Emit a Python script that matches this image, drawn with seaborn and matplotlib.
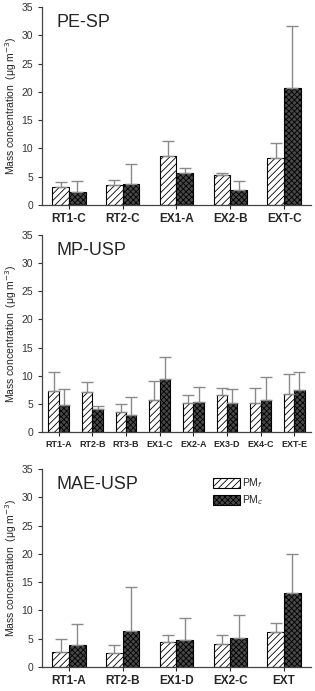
import matplotlib
matplotlib.use('Agg')
import matplotlib.pyplot as plt
import pandas as pd
import seaborn as sns
from matplotlib.patches import Patch

sns.set_style('ticks')
plt.rcParams['font.family'] = ['Liberation Sans', 'DejaVu Sans']
plt.rcParams['hatch.linewidth'] = 0.6

# Panel data: site labels, PMf / PMc means and upper error sizes
pesp_sites = ['RT1-C', 'RT2-C', 'EX1-A', 'EX2-B', 'EXT-C']
pesp_f = [3.1, 3.5, 8.6, 5.3, 8.4]
pesp_f_err = [1.0, 0.9, 2.8, 0.4, 2.6]
pesp_c = [2.3, 3.8, 5.7, 2.6, 20.6]
pesp_c_err = [2.0, 3.5, 0.8, 1.6, 11.0]

mpusp_sites = ['RT1-A', 'RT2-B', 'RT3-B', 'EX1-C', 'EX2-A', 'EX3-D', 'EX4-C', 'EXT-E']
mpusp_f = [7.3, 7.1, 3.6, 5.6, 5.2, 6.6, 5.1, 6.8]
mpusp_f_err = [3.4, 1.7, 1.4, 3.4, 1.3, 1.3, 2.8, 3.5]
mpusp_c = [4.8, 4.0, 3.1, 9.4, 5.3, 5.1, 5.7, 7.4]
mpusp_c_err = [2.8, 0.6, 3.2, 3.9, 2.7, 2.5, 4.0, 3.3]

maeusp_sites = ['RT1-A', 'RT2-B', 'EX1-D', 'EX2-C', 'EXT']
maeusp_f = [2.7, 2.5, 4.5, 4.0, 6.2]
maeusp_f_err = [2.3, 1.4, 1.1, 1.7, 1.6]
maeusp_c = [3.9, 6.3, 4.7, 5.1, 13.1]
maeusp_c_err = [3.7, 7.9, 3.9, 4.1, 6.9]

panels = [
    ('PE-SP', pesp_sites, pesp_f, pesp_f_err, pesp_c, pesp_c_err, 8.5),
    ('MP-USP', mpusp_sites, mpusp_f, mpusp_f_err, mpusp_c, mpusp_c_err, 6.5),
    ('MAE-USP', maeusp_sites, maeusp_f, maeusp_f_err, maeusp_c, maeusp_c_err, 8.5),
]

fig = plt.figure(figsize=(3.15, 6.91), dpi=100)
rects = [[0.1333, 0.7033, 0.854, 0.2865],
         [0.1333, 0.3748, 0.854, 0.2851],
         [0.1333, 0.0347, 0.854, 0.2865]]

dark = '#484848'
hue_order = ['PMf', 'PMc']
for (name, sites, f, fe, c, ce, fs), rect in zip(panels, rects):
    ax = fig.add_axes(rect)
    df = pd.DataFrame({
        'site': sites * 2,
        'size': ['PMf'] * len(sites) + ['PMc'] * len(sites),
        'value': f + c,
        'err': fe + ce,
    })
    sns.barplot(data=df, x='site', y='value', hue='size', hue_order=hue_order,
                order=sites, width=0.62, gap=0, ax=ax, legend=False,
                palette={'PMf': 'white', 'PMc': dark},
                edgecolor='black', linewidth=0.8, errorbar=None)
    n = len(sites)
    for i, p in enumerate(ax.patches[:2 * n]):
        if i < n:
            p.set_hatch('/////')
            p.set_facecolor('white')
        else:
            p.set_hatch('xxxxxx')
            p.set_facecolor(dark)
        xc = p.get_x() + p.get_width() / 2
        ax.errorbar(xc, df['value'][i], yerr=[[0], [df['err'][i]]], fmt='none',
                    ecolor='#8a8a8a', elinewidth=1.0, capsize=4, capthick=1.0,
                    zorder=1)
    ax.set_xlim(-0.5, n - 0.5)
    ax.set_ylim(0, 35)
    ax.set_yticks(range(0, 36, 5))
    ax.tick_params(axis='y', labelsize=7.5, length=3, width=0.8, colors='#333333')
    ax.tick_params(axis='x', labelsize=fs, length=3, width=0.8, pad=3)
    for lab in ax.get_xticklabels():
        lab.set_fontweight('bold')
    ax.set_xlabel('')
    ax.set_ylabel('Mass concentration  (μg m$^{-3}$)', fontsize=7.5, labelpad=2)
    sns.despine(ax=ax)
    for s in ['left', 'bottom']:
        ax.spines[s].set_linewidth(0.9)
        ax.spines[s].set_color('#444444')
    ax.text(0.055, 0.965, name, transform=ax.transAxes, fontsize=13,
            ha='left', va='top')

    if name == 'MAE-USP':
        handles = [Patch(facecolor='white', edgecolor='black', hatch='/////', linewidth=0.8),
                   Patch(facecolor=dark, edgecolor='black', hatch='xxxxxx', linewidth=0.8)]
        ax.legend(handles, ['PM$_f$', 'PM$_c$'], loc='upper left',
                  bbox_to_anchor=(0.6, 1.01), frameon=False, fontsize=7.5,
                  handlelength=2.6, handleheight=1.1, handletextpad=0.2,
                  labelspacing=0.3)

fig.savefig('out.png', dpi=100)
